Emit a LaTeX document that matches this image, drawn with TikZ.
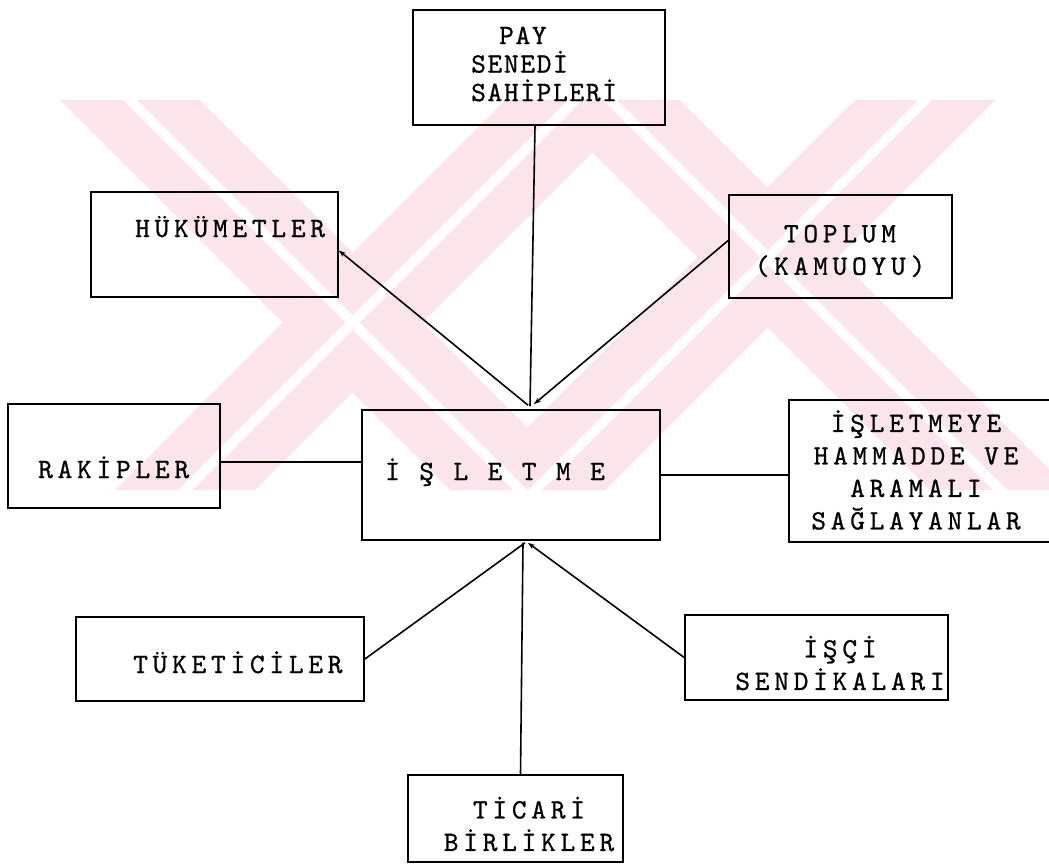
\documentclass[tikz,border=0pt]{standalone}
\usepackage{fontspec}
\usetikzlibrary{arrows.meta}
\newfontfamily\tw{lmmono10-regular.otf}[LetterSpace=17,FakeBold=0.8]
\newfontfamily\twp{lmmono10-regular.otf}[LetterSpace=6,FakeBold=0.8]
\definecolor{wm}{RGB}{252,229,234}
\newcommand\lbfont{\tw\fontsize{28}{32.5}\selectfont}
\newcommand\payfont{\twp\fontsize{28}{28.5}\selectfont}
\tikzset{
  box/.style={draw, line width=1.7pt, inner sep=0pt},
  lbl/.style={font=\lbfont, align=center, inner sep=0pt},
  conn/.style={line width=1.6pt},
  tipend/.style={-{Stealth[length=7pt,width=5pt]}},
  band/.style={fill=wm, draw=none},
  gap/.style={fill=white, draw=none}
}
\begin{document}
\begin{tikzpicture}[x=1pt,y=-1pt]
\useasboundingbox (0,0) rectangle (1049,864);
% watermark
\fill[band] (60,100) -- (200,100) -- (590,490) -- (450,490) -- cycle;
\fill[band] (505,100) -- (645,100) -- (255,490) -- (115,490) -- cycle;
\fill[band] (540,100) -- (680,100) -- (1070,490) -- (930,490) -- cycle;
\fill[band] (855,100) -- (995,100) -- (605,490) -- (465,490) -- cycle;
\fill[gap] (123,100) -- (137,100) -- (527,490) -- (513,490) -- cycle;
\fill[gap] (568,100) -- (582,100) -- (192,490) -- (178,490) -- cycle;
\fill[gap] (603,100) -- (617,100) -- (1007,490) -- (993,490) -- cycle;
\fill[gap] (918,100) -- (932,100) -- (542,490) -- (528,490) -- cycle;
% boxes
\node[box, minimum width=252pt, minimum height=115pt] (pay) at (539,67.5) {};
\node[box, minimum width=247pt, minimum height=105pt] (huk) at (214.5,244.5) {};
\node[box, minimum width=223pt, minimum height=103pt] (top) at (840.5,246.5) {};
\node[box, minimum width=212pt, minimum height=104pt] (rak) at (114,456) {};
\node[box, minimum width=298pt, minimum height=130pt] (isl) at (511,475) {};
\node[box, minimum width=267pt, minimum height=142pt] (sup) at (922.5,471) {};
\node[box, minimum width=288pt, minimum height=84pt] (tuk) at (220,659) {};
\node[box, minimum width=263pt, minimum height=85pt] (isci) at (816.5,657.5) {};
\node[box, minimum width=215pt, minimum height=87pt] (tic) at (515.5,818.5) {};
% labels
\node[font=\payfont, align=left, inner sep=0pt, anchor=west] (payT) at (471,64) {\hspace*{28pt}PAY\\SENEDİ\\SAHİPLERİ};
\node[lbl, anchor=base west] (hukT) at (135,237) {HÜKÜMETLER};
\node[lbl] (topT) at (840,251) {TOPLUM\\(KAMUOYU)};
\node[lbl, anchor=base west] (rakT) at (38,478) {RAKİPLER};
\node[lbl, anchor=base west] (islT) at (385,480) {İ Ş L E T M E};
\node[lbl] (supT) at (916,470) {İŞLETMEYE\\HAMMADDE VE\\ARAMALI\\SAĞLAYANLAR};
\node[lbl, anchor=base west] (tukT) at (133,673) {TÜKETİCİLER};
\node[lbl] (isciT) at (840,663) {İŞÇİ\\SENDİKALARI};
\node[lbl] (ticT) at (529,824) {TİCARİ\\BİRLİKLER};
% hub points
\coordinate (hP) at ([xshift=19pt,yshift=3pt]isl.north);
\coordinate (hH) at ([xshift=17pt,yshift=4pt]isl.north);
\coordinate (hT) at ([xshift=23pt,yshift=5pt]isl.north);
\coordinate (bT) at ([xshift=14pt,yshift=-2pt]isl.south);
\coordinate (bC) at ([xshift=12pt,yshift=-2pt]isl.south);
\coordinate (bI) at ([xshift=17pt,yshift=-2pt]isl.south);
% connectors
\draw[conn] ([xshift=-4pt]pay.south) -- (hP);
\draw[conn, tipend] (hH) -- ([yshift=-6pt]huk.east);
\draw[conn, tipend] ([yshift=6pt]top.west) -- (hT);
\draw[conn] ([yshift=-6pt]rak.east) -- ([yshift=-6pt]rak.east -| isl.west);
\draw[conn] (isl.east) -- (isl.east -| sup.west);
\draw[conn] (tuk.east) -- (bT);
\draw[conn] ([xshift=5pt]tic.north) -- (bC);
\draw[conn, tipend] (isci.west) -- (bI);
\end{tikzpicture}
\end{document}
